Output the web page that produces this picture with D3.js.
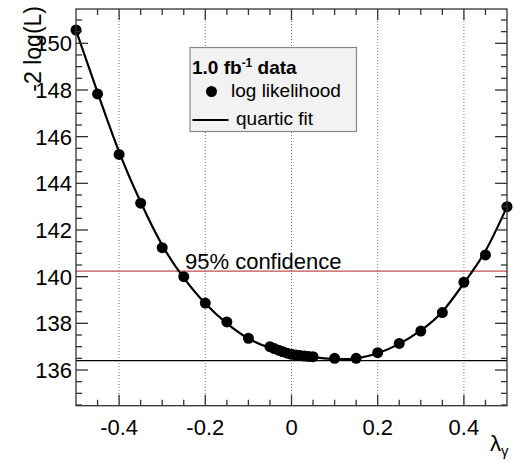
<!DOCTYPE html>
<html><head><meta charset="utf-8">
<script src="https://cdn.jsdelivr.net/npm/d3@7"></script>
<style>body{margin:0;background:#fff}svg{display:block;font-family:"Liberation Sans",Arial,sans-serif}</style>
</head><body><svg id="c" width="515" height="462"></svg>
<script>
const lambdaVals = [-0.5,-0.45,-0.4,-0.35,-0.3,-0.25,-0.2,-0.15,-0.1,-0.05,-0.04,-0.03,-0.02,-0.01,0,0.01,0.02,0.03,0.04,0.05,0.1,0.15,0.2,0.25,0.3,0.35,0.4,0.45,0.5];
const logLik = [150.57,147.83,145.24,143.15,141.24,140.0,138.87,138.06,137.36,137.0,136.92,136.85,136.78,136.72,136.67,136.64,136.62,136.6,136.58,136.57,136.5,136.5,136.74,137.14,137.67,138.46,139.76,140.93,143.0];
const fitX = [-0.5,-0.45,-0.4,-0.35,-0.3,-0.25,-0.2,-0.15,-0.1,-0.05,0,0.05,0.1,0.15,0.2,0.25,0.3,0.35,0.4,0.45,0.5];
const fitY = [150.55,147.9,145.35,143.2,141.35,139.95,138.85,138.0,137.35,136.95,136.7,136.55,136.47,136.5,136.72,137.12,137.7,138.5,139.72,141.1,143.0];
const minLevel = 136.4;
const confLevel = 140.24;
const xTicks = [-0.4,-0.2,0,0.2,0.4];
const xTickLabels = ["-0.4","-0.2","0","0.2","0.4"];
const yTicks = [136,138,140,142,144,146,148,150];

const svg = d3.select("#c");
const L=76,R=507,T=9,B=405.7;
const x = d3.scaleLinear().domain([-0.5,0.5]).range([L,R]);
const y = d3.scaleLinear().domain([134.47,151.47]).range([B,T]);

// grid
svg.append("g").selectAll("line").data(xTicks).join("line")
  .attr("x1",d=>x(d)).attr("x2",d=>x(d)).attr("y1",T).attr("y2",B)
  .attr("stroke","#777").attr("stroke-width",1).attr("stroke-dasharray","1,2");

// legend
const lg = svg.append("g");
lg.append("rect").attr("x",190).attr("y",47.5).attr("width",166.5).attr("height",84)
  .attr("fill","#f2f2f2").attr("stroke","#888").attr("stroke-width",1.2);
const t1 = lg.append("text").attr("x",192).attr("y",74).attr("font-size",19).attr("font-weight","bold");
t1.append("tspan").text("1.0 fb");
t1.append("tspan").attr("font-size",12).attr("dy",-7).text("-1");
t1.append("tspan").attr("dy",7).text(" data");
lg.append("circle").attr("cx",211.5).attr("cy",91.5).attr("r",5.5).attr("fill","#000");
lg.append("text").attr("x",231).attr("y",97).attr("font-size",19).text("log likelihood");
lg.append("line").attr("x1",192.5).attr("x2",228.5).attr("y1",120).attr("y2",120).attr("stroke","#000").attr("stroke-width",2);
lg.append("text").attr("x",236).attr("y",124.5).attr("font-size",19).text("quartic fit");

// horizontal lines
svg.append("line").attr("x1",L).attr("x2",R).attr("y1",y(confLevel)).attr("y2",y(confLevel))
  .attr("stroke","#c0504d").attr("stroke-width",1.3);
svg.append("line").attr("x1",L).attr("x2",R).attr("y1",y(minLevel)).attr("y2",y(minLevel))
  .attr("stroke","#000").attr("stroke-width",1.2);
svg.append("text").attr("x",185).attr("y",269).attr("font-size",22).text("95% confidence");

// fit curve
const line = d3.line().x((d,i)=>x(fitX[i])).y(d=>y(d)).curve(d3.curveNatural);
svg.append("path").datum(fitY).attr("d",line).attr("fill","none").attr("stroke","#000").attr("stroke-width",2.2);

// points
svg.append("g").selectAll("circle").data(logLik).join("circle")
  .attr("cx",(d,i)=>x(lambdaVals[i])).attr("cy",d=>y(d)).attr("r",5.5).attr("fill","#000");

// frame & ticks
const ax = svg.append("g").attr("stroke","#333").attr("stroke-width",1.3);
ax.append("rect").attr("x",L).attr("y",T).attr("width",R-L).attr("height",B-T).attr("fill","none");
const xMinor = d3.range(-0.45,0.5,0.05).map(v=>+v.toFixed(2));
xMinor.forEach(v=>{
  const len = xTicks.some(t=>Math.abs(t-v)<1e-6)?11:6;
  ax.append("line").attr("x1",x(v)).attr("x2",x(v)).attr("y1",B).attr("y2",B-len);
  ax.append("line").attr("x1",x(v)).attr("x2",x(v)).attr("y1",T).attr("y2",T+len);
});
const yMinor = d3.range(134.5,151.5,0.5);
yMinor.forEach(v=>{
  const len = yTicks.includes(v)?12:6;
  ax.append("line").attr("x1",L).attr("x2",L+len).attr("y1",y(v)).attr("y2",y(v));
  ax.append("line").attr("x1",R).attr("x2",R-len).attr("y1",y(v)).attr("y2",y(v));
});

// labels
svg.append("g").selectAll("text").data(xTicks).join("text")
  .attr("x",d=>x(d)).attr("y",435).attr("text-anchor","middle").attr("font-size",22)
  .text((d,i)=>xTickLabels[i]);
svg.append("g").selectAll("text").data(yTicks).join("text")
  .attr("x",72).attr("y",d=>y(d)+8).attr("text-anchor","end").attr("font-size",22)
  .text(d=>d);
svg.append("text").attr("transform","translate(41,6) rotate(-90)").attr("text-anchor","end")
  .attr("font-size",23).text("-2 log(L)");
const xt = svg.append("text").attr("x",490).attr("y",451).attr("font-size",22);
xt.append("tspan").text("λ");
xt.append("tspan").attr("font-size",15).attr("dy",5).text("γ");
</script></body></html>
